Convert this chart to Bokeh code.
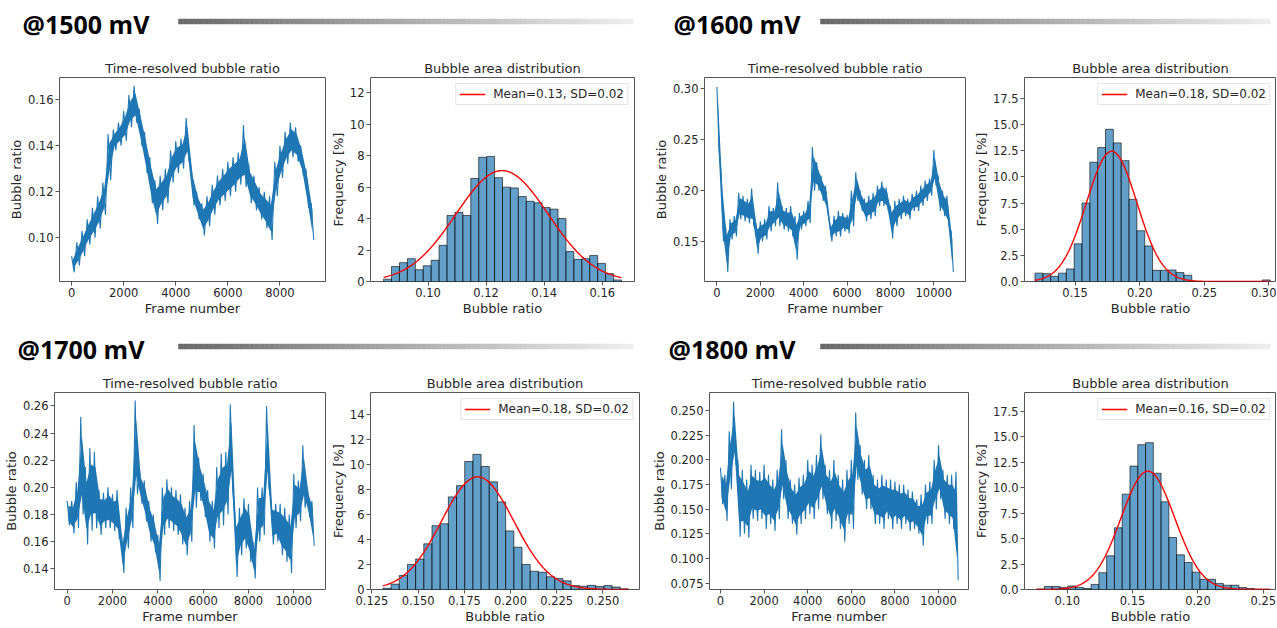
import numpy as np
from bokeh.plotting import figure
from bokeh.layouts import column, row
from bokeh.models import Range1d, FixedTicker, NumeralTickFormatter, Legend, LegendItem
from bokeh.core.properties import value
from bokeh.embed import file_html
from bokeh.resources import INLINE

# ------------------------------------------------------------------ data
headers = ["@1500 mV", "@1600 mV", "@1700 mV", "@1800 mV"]
ts_title = "Time-resolved bubble ratio"
hist_title = "Bubble area distribution"
ts_xlabel = "Frame number"
ts_ylabel = "Bubble ratio"
hist_xlabel = "Bubble ratio"
hist_ylabel = "Frequency [%]"

# time series read as low / high envelope every ts_step frames
ts_step = 200
ts1500_low = [0.085, 0.088, 0.092, 0.097, 0.100, 0.104, 0.110, 0.125, 0.138, 0.140, 0.142, 0.148, 0.150, 0.140,
              0.128, 0.115, 0.106, 0.112, 0.115, 0.124, 0.128, 0.130, 0.134, 0.114, 0.108, 0.101, 0.105, 0.110,
              0.114, 0.116, 0.118, 0.120, 0.123, 0.122, 0.115, 0.112, 0.108, 0.104, 0.099, 0.118, 0.126, 0.132,
              0.135, 0.133, 0.127, 0.113, 0.099]
ts1500_high = [0.092, 0.098, 0.103, 0.108, 0.113, 0.118, 0.124, 0.145, 0.147, 0.150, 0.155, 0.162, 0.166, 0.156,
               0.146, 0.135, 0.125, 0.127, 0.130, 0.138, 0.142, 0.143, 0.152, 0.130, 0.120, 0.115, 0.118, 0.123,
               0.127, 0.130, 0.133, 0.135, 0.137, 0.149, 0.132, 0.127, 0.122, 0.120, 0.118, 0.133, 0.140, 0.146,
               0.150, 0.148, 0.140, 0.130, 0.115]
ts1600_low = [0.240, 0.150, 0.120, 0.152, 0.155, 0.172, 0.170, 0.168, 0.165, 0.138, 0.150, 0.152, 0.160, 0.165,
              0.165, 0.162, 0.160, 0.155, 0.132, 0.162, 0.165, 0.168, 0.200, 0.200, 0.190, 0.180, 0.150, 0.155,
              0.155, 0.160, 0.158, 0.165, 0.190, 0.180, 0.170, 0.172, 0.175, 0.185, 0.185, 0.180, 0.153, 0.165,
              0.172, 0.175, 0.172, 0.180, 0.180, 0.185, 0.190, 0.195, 0.205, 0.180, 0.175, 0.165, 0.120]
ts1600_high = [0.302, 0.215, 0.165, 0.172, 0.175, 0.198, 0.195, 0.192, 0.202, 0.168, 0.170, 0.172, 0.185, 0.183,
               0.208, 0.185, 0.183, 0.185, 0.175, 0.178, 0.180, 0.190, 0.243, 0.228, 0.215, 0.205, 0.168, 0.175,
               0.180, 0.178, 0.176, 0.200, 0.218, 0.200, 0.192, 0.195, 0.198, 0.205, 0.209, 0.203, 0.185, 0.190,
               0.192, 0.195, 0.192, 0.197, 0.200, 0.205, 0.210, 0.212, 0.240, 0.215, 0.200, 0.195, 0.160]
ts1700_low = [0.172, 0.166, 0.170, 0.180, 0.158, 0.168, 0.170, 0.165, 0.170, 0.170, 0.168, 0.162, 0.137, 0.155,
              0.170, 0.195, 0.188, 0.175, 0.160, 0.152, 0.131, 0.165, 0.170, 0.168, 0.165, 0.158, 0.150, 0.160,
              0.185, 0.190, 0.178, 0.160, 0.155, 0.170, 0.172, 0.180, 0.200, 0.134, 0.150, 0.155, 0.145, 0.133,
              0.160, 0.165, 0.200, 0.158, 0.160, 0.150, 0.145, 0.137, 0.170, 0.175, 0.185, 0.178, 0.157]
ts1700_high = [0.190, 0.190, 0.204, 0.252, 0.215, 0.229, 0.226, 0.198, 0.196, 0.200, 0.195, 0.198, 0.165, 0.185,
               0.200, 0.264, 0.212, 0.205, 0.190, 0.180, 0.165, 0.200, 0.206, 0.200, 0.198, 0.195, 0.185, 0.190,
               0.246, 0.222, 0.210, 0.198, 0.190, 0.215, 0.225, 0.226, 0.261, 0.180, 0.185, 0.192, 0.188, 0.160,
               0.200, 0.200, 0.260, 0.190, 0.188, 0.188, 0.185, 0.180, 0.210, 0.205, 0.231, 0.200, 0.190]
ts1800_low = [0.155, 0.138, 0.170, 0.195, 0.122, 0.125, 0.121, 0.140, 0.138, 0.140, 0.130, 0.135, 0.128, 0.140,
              0.160, 0.140, 0.135, 0.124, 0.135, 0.140, 0.145, 0.140, 0.150, 0.160, 0.145, 0.130, 0.138, 0.130,
              0.117, 0.135, 0.130, 0.180, 0.165, 0.150, 0.150, 0.135, 0.135, 0.130, 0.140, 0.130, 0.135, 0.130,
              0.135, 0.128, 0.130, 0.125, 0.113, 0.135, 0.135, 0.150, 0.160, 0.140, 0.135, 0.130, 0.078]
ts1800_high = [0.192, 0.185, 0.229, 0.259, 0.200, 0.190, 0.180, 0.195, 0.190, 0.188, 0.195, 0.185, 0.180, 0.190,
               0.231, 0.200, 0.180, 0.175, 0.182, 0.185, 0.200, 0.195, 0.205, 0.226, 0.195, 0.190, 0.200, 0.185,
               0.180, 0.190, 0.200, 0.248, 0.215, 0.200, 0.205, 0.185, 0.180, 0.185, 0.180, 0.180, 0.178, 0.175,
               0.175, 0.170, 0.168, 0.160, 0.165, 0.175, 0.178, 0.200, 0.215, 0.190, 0.185, 0.185, 0.188]

# histograms: frequency [%] per bin, first bin edge, bin width
hist1500_freq = [0.15, 0.95, 1.2, 1.45, 0.75, 1.0, 1.35, 2.3, 4.2, 4.4, 4.2, 6.55, 7.9, 7.95, 6.6, 6.0, 5.95,
                 5.4, 5.1, 5.0, 4.7, 4.6, 4.0, 1.9, 1.4, 1.45, 1.65, 1.15, 0.5, 0.1]
hist1500_edge0, hist1500_width = 0.0847, 0.00273
hist1600_freq = [0.8, 0.75, 0.5, 0.8, 1.2, 3.6, 7.5, 11.4, 12.8, 14.55, 13.25, 11.55, 7.85, 4.85, 3.4, 1.07,
                 1.07, 1.1, 0.85, 0.6, 0, 0, 0, 0, 0, 0, 0, 0, 0, 0.15]
hist1600_edge0, hist1600_width = 0.1189, 0.00607
hist1700_freq = [0.1, 0.43, 1.12, 2.0, 2.43, 3.65, 5.1, 5.25, 7.4, 8.3, 10.23, 10.8, 9.83, 8.6, 7.0, 4.68, 3.38,
                 2.0, 1.46, 1.38, 1.02, 0.87, 0.69, 0.31, 0.26, 0.33, 0.23, 0.31, 0.2, 0.05]
hist1700_edge0, hist1700_width = 0.1309, 0.00443
hist1800_freq = [0.05, 0.3, 0.3, 0.2, 0.35, 0.2, 0.1, 0.5, 1.65, 3.3, 6.05, 9.35, 12.1, 14.2, 14.4, 11.4, 8.6,
                 5.1, 3.4, 2.65, 1.7, 1.0, 1.0, 0.6, 0.42, 0.42, 0.19, 0.1, 0.03, 0.03]
hist1800_edge0, hist1800_width = 0.0766, 0.00595

# normal fits: mean, sd, peak height [%]
fit_mean = [0.1255, 0.1783, 0.1822, 0.1617]
fit_sd = [0.0159, 0.0195, 0.0196, 0.0205]
fit_peak = [7.05, 12.45, 9.0, 11.6]
fit_labels = ["Mean=0.13, SD=0.02", "Mean=0.18, SD=0.02", "Mean=0.18, SD=0.02", "Mean=0.16, SD=0.02"]

# axis ticks
ts_xticks = [0, 2000, 4000, 6000, 8000, 10000]
ts1500_yticks = [0.10, 0.12, 0.14, 0.16]
ts1600_yticks = [0.15, 0.20, 0.25, 0.30]
ts1700_yticks = [0.14, 0.16, 0.18, 0.20, 0.22, 0.24, 0.26]
ts1800_yticks = [0.075, 0.100, 0.125, 0.150, 0.175, 0.200, 0.225, 0.250]
hist1500_xticks = [0.10, 0.12, 0.14, 0.16]
hist1600_xticks = [0.15, 0.20, 0.25, 0.30]
hist1700_xticks = [0.125, 0.150, 0.175, 0.200, 0.225, 0.250]
hist1800_xticks = [0.10, 0.15, 0.20, 0.25]
hist1500_yticks = [0, 2, 4, 6, 8, 10, 12]
hist1600_yticks = [0.0, 2.5, 5.0, 7.5, 10.0, 12.5, 15.0, 17.5]
hist1700_yticks = [0, 2, 4, 6, 8, 10, 12, 14]
hist1800_yticks = [0.0, 2.5, 5.0, 7.5, 10.0, 12.5, 15.0, 17.5]

# ------------------------------------------------------------------ style
FONT = "DejaVu Sans"
TXT = "#262626"
EDGE = "#555555"
BLUE = "#1f77b4"
W = 1276


def base_fig(width, height, borders, xr, yr, title, xticks, xfmt, yticks, yfmt, xlabel, ylabel):
    bl, br, bt, bb = borders
    p = figure(width=width, height=height, x_range=Range1d(*xr), y_range=Range1d(*yr),
               output_backend="svg", toolbar_location=None, title=title,
               min_border_left=bl, min_border_right=br, min_border_top=bt, min_border_bottom=bb)
    p.title.align = "center"
    p.title.text_font = FONT
    p.title.text_font_size = "13px"
    p.title.text_font_style = "normal"
    p.title.text_color = TXT
    p.title.standoff = 4
    p.grid.visible = False
    p.outline_line_color = EDGE
    p.outline_line_width = 1
    p.background_fill_color = "white"
    p.border_fill_color = "white"
    p.xaxis.ticker = FixedTicker(ticks=xticks)
    p.yaxis.ticker = FixedTicker(ticks=yticks)
    p.xaxis.formatter = NumeralTickFormatter(format=xfmt)
    p.yaxis.formatter = NumeralTickFormatter(format=yfmt)
    p.xaxis.axis_label = xlabel
    p.yaxis.axis_label = ylabel
    for ax in (p.xaxis[0], p.yaxis[0]):
        ax.axis_line_color = None
        ax.major_tick_out = 4
        ax.major_tick_in = 0
        ax.major_tick_line_color = EDGE
        ax.minor_tick_line_color = None
        ax.major_label_text_font = FONT
        ax.major_label_text_font_size = "11.5px"
        ax.major_label_text_color = TXT
        ax.major_label_standoff = 2
        ax.axis_label_text_font = FONT
        ax.axis_label_text_font_size = "13px"
        ax.axis_label_text_font_style = "normal"
        ax.axis_label_text_color = TXT
        ax.axis_label_standoff = 1
    return p


def envelope_trace(low, high, step):
    xs, ys = [], []
    for i, (lo, hi) in enumerate(zip(low, high)):
        xs += [i * step, i * step + step / 2]
        ys += [hi, lo]
    return xs, ys


def ts_fig(width, height, borders, xr, yr, low, high, yticks, yfmt):
    p = base_fig(width, height, borders, xr, yr, ts_title, ts_xticks, "0", yticks, yfmt, ts_xlabel, ts_ylabel)
    lo = np.array(low)
    hi = np.array(high)
    core_lo = lo + 0.2 * (hi - lo)
    core_hi = hi - 0.2 * (hi - lo)
    xb = [i * ts_step + ts_step / 4 for i in range(len(low))]
    p.varea(x=xb, y1=core_lo, y2=core_hi, fill_color=BLUE, fill_alpha=1.0)
    xs, ys = envelope_trace(low, high, ts_step)
    p.line(xs, ys, line_color=BLUE, line_width=1.1)
    return p


def hist_fig(width, height, borders, xr, yr, freq, edge0, bw, k, xticks, xfmt, yticks, yfmt):
    p = base_fig(width, height, borders, xr, yr, hist_title, xticks, xfmt, yticks, yfmt, hist_xlabel, hist_ylabel)
    edges = edge0 + bw * np.arange(len(freq) + 1)
    p.quad(left=edges[:-1], right=edges[1:], top=freq, bottom=0,
           fill_color=BLUE, fill_alpha=0.7, line_color="black", line_alpha=0.6, line_width=1)
    xc = np.linspace(edges[0], edges[-1], 300)
    yc = fit_peak[k] * np.exp(-0.5 * ((xc - fit_mean[k]) / fit_sd[k]) ** 2)
    r = p.line(xc, yc, line_color="red", line_width=1.4)
    leg = Legend(items=[LegendItem(label=fit_labels[k], renderers=[r])], location="top_right")
    leg.label_text_font = FONT
    leg.label_text_font_size = "12px"
    leg.label_text_color = TXT
    leg.border_line_color = "#cccccc"
    leg.background_fill_alpha = 0.85
    leg.padding = 3
    leg.margin = 6
    leg.spacing = 0
    leg.glyph_width = 26
    leg.glyph_height = 14
    leg.label_standoff = 8
    leg.label_height = 14
    p.add_layout(leg)
    return p


def header(height, texts, xs, mid_y, grad_y, spans):
    h = figure(width=W, height=height, x_range=Range1d(0, W), y_range=Range1d(height, 0),
               x_axis_type=None, y_axis_type=None, output_backend="svg", toolbar_location=None,
               min_border=0)
    h.title.visible = False
    h.outline_line_color = None
    h.border_fill_color = "white"
    h.text(x=xs, y=[mid_y] * len(xs), text=texts, text_font=value("Open Sans"),
           text_font_style="bold", text_font_size="25px", text_baseline="middle", text_color="black")
    n = 90
    for x0, x1 in spans:
        e = np.linspace(x0, x1, n + 1)
        g = np.linspace(105, 238, n).astype(int)
        cols = ["#%02x%02x%02x" % (v, v, v) for v in g]
        h.quad(left=e[:-1], right=e[1:], top=grad_y - 2.5, bottom=grad_y + 2.5,
               fill_color=cols, line_color=cols, line_width=0.5)
    return h


# ------------------------------------------------------------------ layout
H1, R1, H2, R2 = 42, 276, 46, 262
widths = [327, 318, 325, 306]

hdr1 = header(H1, headers[0:2], [22, 673], 23, 21, [(178, 633), (820, 1270)])
hdr2 = header(H2, headers[2:4], [17, 668], 30, 28, [(178, 633), (820, 1270)])

a = ts_fig(widths[0], R1, (59, 2, 35, 35), (-465, 9750), (0.081, 0.1696), ts1500_low, ts1500_high,
           ts1500_yticks, "0.00")
b = hist_fig(widths[1], R1, (40, 11, 35, 35), (0.0802, 0.1711), (0, 12.97), hist1500_freq, hist1500_edge0,
             hist1500_width, 0, hist1500_xticks, "0.00", hist1500_yticks, "0")
c = ts_fig(widths[2], R1, (59, 5, 35, 35), (-573, 11460), (0.1107, 0.3113), ts1600_low, ts1600_high,
           ts1600_yticks, "0.00")
d = hist_fig(widths[3], R1, (51, 0, 35, 35), (0.1108, 0.3059), (0, 19.5), hist1600_freq, hist1600_edge0,
             hist1600_width, 1, hist1600_xticks, "0.00", hist1600_yticks, "0.0")

e = ts_fig(widths[0], R2, (54, 2, 28, 35), (-560, 11400), (0.1248, 0.2699), ts1700_low, ts1700_high,
           ts1700_yticks, "0.00")
f = hist_fig(widths[1], R2, (42, 6, 28, 35), (0.1242, 0.2698), (0, 15.74), hist1700_freq, hist1700_edge0,
             hist1700_width, 2, hist1700_xticks, "0.000", hist1700_yticks, "0")
g = ts_fig(widths[2], R2, (64, 2, 28, 35), (-504, 11374), (0.0685, 0.2684), ts1800_low, ts1800_high,
           ts1800_yticks, "0.000")
hh = hist_fig(widths[3], R2, (54, 0, 28, 35), (0.0673, 0.2601), (0, 19.32), hist1800_freq, hist1800_edge0,
              hist1800_width, 3, hist1800_xticks, "0.00", hist1800_yticks, "0.0")

layout = column(hdr1, row(a, b, c, d, spacing=0), hdr2, row(e, f, g, hh, spacing=0), spacing=0)

open("out.html", "w").write(file_html(layout, INLINE))
